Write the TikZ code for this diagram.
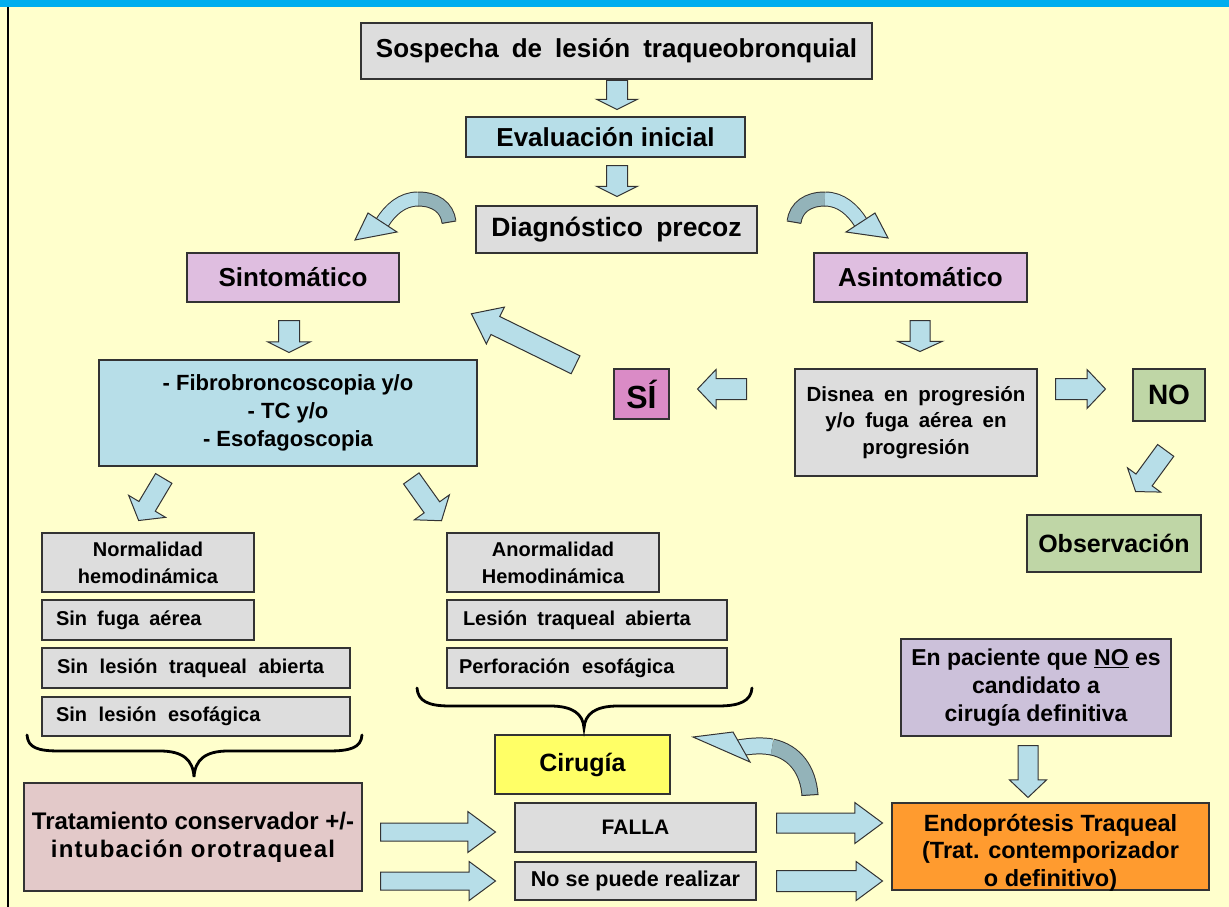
\documentclass[tikz,border=0pt]{standalone}
\usepackage{fontspec}
\setmainfont{Liberation Sans}
\usetikzlibrary{shapes.arrows,calc}
\definecolor{bg}{HTML}{FFFFCC}
\definecolor{topbar}{HTML}{00AEEF}
\definecolor{gbox}{HTML}{DDDDDD}
\definecolor{bbox}{HTML}{B7DEE8}
\definecolor{pbox}{HTML}{DFBEE0}
\definecolor{sibox}{HTML}{DA8BC6}
\definecolor{grbox}{HTML}{BFD6A6}
\definecolor{vbox}{HTML}{CCC1DA}
\definecolor{rbox}{HTML}{E3C9C9}
\definecolor{ybox}{HTML}{FFFF66}
\definecolor{obox}{HTML}{FF9B2F}
\definecolor{arrfill}{HTML}{B7DEE8}
\definecolor{arrdark}{HTML}{93B3B9}
\definecolor{edge}{HTML}{333333}
\newcommand\wsp[1]{\spaceskip=#1em plus 0.1em minus 0.05em\relax}
\tikzset{
  box/.style={draw=edge, line width=1.3pt, inner sep=0pt, align=center},
  lbox/.style={box, align=left, font=\bfseries\fontsize{20}{24}\selectfont},
  barrow/.style={single arrow, draw=edge, fill=arrfill, line width=1pt, inner xsep=0pt, anchor=tail},
  band/.style={draw=edge, line width=1pt},
  bracestyle/.style={draw=black, line width=2.8pt, line cap=round},
  fa/.style={font=\bfseries\fontsize{#1}{#1}\selectfont},
}
\newcommand\blkarrow[7]{%
  \pgfmathsetmacro\hext{(#6-#5)/2}%
  \pgfmathsetmacro\hsw{#5/2}%
  \node[barrow, rotate=#3, minimum height=#4pt, minimum width=#6pt, inner ysep=\hsw pt,
        single arrow head extend=\hext pt, single arrow tip angle=#7] (#1) at #2 {};
}
\begin{document}
\begin{tikzpicture}[x=1pt,y=-1pt]
\useasboundingbox (0,0) rectangle (1229,907);
\fill[bg] (0,0) rectangle (1229,907);
\fill[topbar] (0,0) rectangle (1229,7.5);
\draw[black, line width=1.5pt] (8,7.5) -- (8,907);

% boxes
\node[box, fill=gbox, minimum width=511pt, minimum height=56pt,
      font={\bfseries\fontsize{26}{31}\selectfont\wsp{0.5}}] (sosp) at (616.5,51) {Sospecha de lesión traqueobronquial};
\node[box, fill=bbox, minimum width=279pt, minimum height=40pt, fa=26] (eval) at (605.5,137) {Evaluación inicial};
\node[box, fill=gbox, minimum width=281pt, minimum height=47pt,
      font={\bfseries\fontsize{26.5}{31}\selectfont\wsp{0.5}}] (diag) at (616.5,229.5) {Diagnóstico precoz};
\node[box, fill=pbox, minimum width=212pt, minimum height=49pt, fa=26] (sint) at (293,277.5) {Sintomático};
\node[box, fill=pbox, minimum width=213pt, minimum height=49pt, fa=26] (asint) at (920.5,277.5) {Asintomático};
\node[box, fill=bbox, minimum width=378pt, minimum height=106pt,
      font=\bfseries\fontsize{22}{28}\selectfont] (fibro) at (288,413) {- Fibrobroncoscopia y/o\\- TC y/o\\- Esofagoscopia};
\node[box, fill=sibox, minimum width=55pt, minimum height=50pt, fa=32] (si) at (641.5,394) {SÍ};
\node[box, fill=gbox, minimum width=242pt, minimum height=107pt,
      font={\bfseries\fontsize{20.5}{26.5}\selectfont\wsp{0.5}}] (disnea) at (916,422.5) {Disnea en progresión\\y/o fuga aérea en\\progresión};
\node[box, fill=grbox, minimum width=72pt, minimum height=52pt, fa=28] (no) at (1169,395) {NO};
\node[box, fill=grbox, minimum width=174pt, minimum height=57pt, fa=25] (obs) at (1114,543.5) {Observación};

\node[box, fill=gbox, minimum width=212pt, minimum height=59pt,
      font=\bfseries\fontsize{20}{27}\selectfont] (norm) at (148,562.5) {Normalidad\\hemodinámica};
\node[lbox, fill=gbox, minimum width=212pt, minimum height=40pt, inner xsep=14pt, text width=184pt]
      (sinfuga) at (148,620) {\wsp{0.5}Sin fuga aérea};
\node[lbox, fill=gbox, minimum width=308pt, minimum height=40pt, inner xsep=15pt, text width=278pt]
      (sinles) at (196,668) {\wsp{0.58}Sin lesión traqueal abierta};
\node[lbox, fill=gbox, minimum width=308pt, minimum height=39pt, inner xsep=14pt, text width=280pt]
      (sinesof) at (196,716.5) {\wsp{0.58}Sin lesión esofágica};

\node[box, fill=gbox, minimum width=212pt, minimum height=59pt,
      font=\bfseries\fontsize{20}{27}\selectfont] (anorm) at (553,562.5) {Anormalidad\\Hemodinámica};
\node[lbox, fill=gbox, minimum width=280pt, minimum height=40pt, inner xsep=16pt, text width=248pt]
      (lesab) at (587,620) {\wsp{0.5}Lesión traqueal abierta};
\node[lbox, fill=gbox, minimum width=280pt, minimum height=40pt, inner xsep=12pt, text width=256pt]
      (perf) at (587,668) {\wsp{0.6}Perforación esofágica};

\node[box, fill=ybox, minimum width=175pt, minimum height=59pt, fa=25] (cir) at (582.5,764.5) {Cirugía};
\node[box, fill=rbox, minimum width=338pt, minimum height=108pt,
      font=\bfseries\fontsize{24}{28}\selectfont] (trat) at (193,837)
      {Tratamiento conservador +/-\\{\addfontfeatures{LetterSpace=5}intubación orotraqueal}};
\node[box, fill=gbox, minimum width=241pt, minimum height=49pt, fa=21] (falla) at (635.5,827.5) {FALLA};
\node[box, fill=gbox, minimum width=241pt, minimum height=38pt, fa=21.5] (nose) at (635.5,881) {No se puede realizar};
\node[box, fill=obox, minimum width=317pt, minimum height=87pt] (endo) at (1050.5,846.5) {};
\node[align=center, inner sep=0pt, font=\bfseries\fontsize{23.5}{27.5}\selectfont] (endotxt)
      at ($(endo.center)+(0,6)$) {Endoprótesis Traqueal\\(Trat. contemporizador\\o definitivo)};
\node[box, fill=vbox, minimum width=270pt, minimum height=97pt,
      font=\bfseries\fontsize{23}{28}\selectfont] (cand) at (1036,687.5) {En paciente que \underline{NO} es\\candidato a\\cirugía definitiva};

% block arrows
\blkarrow{a1}{(617,80)}{-90}{29}{20}{40}{127}
\blkarrow{a2}{(617,165)}{-90}{31}{20}{40}{127}
\blkarrow{a3}{(289,320)}{-90}{32}{20}{42}{127}
\blkarrow{a4}{(920,320)}{-90}{31}{19}{44}{131}
\blkarrow{a5}{(747,389)}{180}{49}{20}{38}{93}
\blkarrow{a6}{(1055,389)}{0}{50}{20}{38}{93}
\blkarrow{a7}{(1166,450)}{-126.2}{51}{19}{40}{110}
\blkarrow{a8}{(576,365)}{153.9}{116}{19}{40}{75}
\blkarrow{a9}{(164,478)}{-120.8}{49}{18}{42}{105}
\blkarrow{a10}{(411,478)}{-54.5}{52}{18}{42}{105}
\blkarrow{a11}{(1028,745)}{-90}{52}{19}{36}{93}
\blkarrow{a12}{(380,832)}{0}{115}{17}{40}{73}
\blkarrow{a13}{(380,881)}{0}{115}{17}{38}{73}
\blkarrow{a14}{(776,823)}{0}{106}{19}{40}{73}
\blkarrow{a15}{(776,881)}{0}{106}{20}{38}{73}

% curved arrows
\draw[band, double=arrdark, double distance=13pt] (449,222) .. controls (447,207) and (435,199) .. (418,199);
\draw[band, double=arrfill, double distance=13pt] (418,199) .. controls (402,199) and (390,210) .. (382,223);
\filldraw[fill=arrfill, draw=edge, line width=1pt] (368,213) -- (355,240) -- (397,232) -- cycle;
\draw[edge, line width=1pt] (442.2,223.3) -- (456,221);

\draw[band, double=arrdark, double distance=13pt] (794,222) .. controls (796,207) and (808,199) .. (825,199);
\draw[band, double=arrfill, double distance=13pt] (825,199) .. controls (841,199) and (853,210) .. (861,223);
\filldraw[fill=arrfill, draw=edge, line width=1pt] (875,213) -- (888,238) -- (846,232) -- cycle;
\draw[edge, line width=1pt] (787,221) -- (800.8,223.3);

\draw[band, double=arrdark, double distance=15pt] (810,795) .. controls (808,770) and (795,752) .. (772,747);
\draw[band, double=arrfill, double distance=15pt] (772,747) .. controls (762,745) and (750,746) .. (738,748);
\filldraw[fill=arrfill, draw=edge, line width=1pt] (733,732) -- (693,737) -- (750,762) -- cycle;
\draw[edge, line width=1pt] (801.5,795.5) -- (818.5,794.5);

% braces
\draw[bracestyle] (27,735) .. controls (28,748) and (38,751) .. (60,751) -- (160,751)
  .. controls (183,751) and (193,760) .. (194,777) .. controls (195,760) and (205,751) .. (228,751)
  -- (328,751) .. controls (350,751) and (361,748) .. (362,735);
\draw[bracestyle] (417,688) .. controls (418,701) and (428,706) .. (450,706) -- (550,706)
  .. controls (573,706) and (583,714) .. (584,728) .. controls (585,714) and (595,706) .. (618,706)
  -- (718,706) .. controls (740,706) and (751,701) .. (752,688);
\end{tikzpicture}
\end{document}
